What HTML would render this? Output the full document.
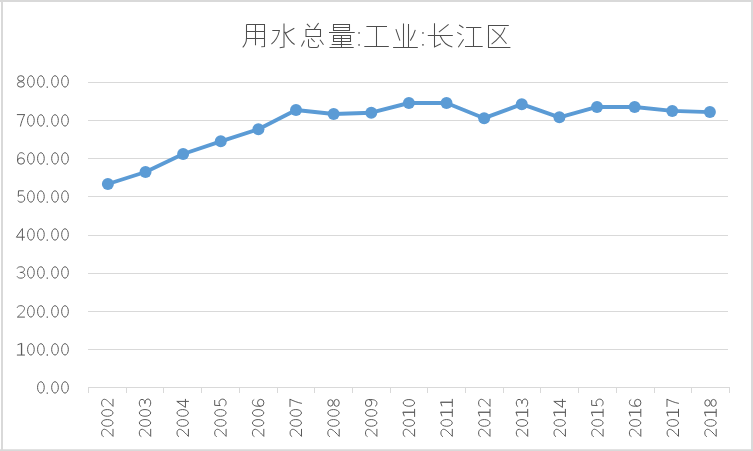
<!DOCTYPE html>
<html><head><meta charset="utf-8"><style>
html,body{margin:0;padding:0;background:#fff;}
body{width:753px;height:451px;overflow:hidden;position:relative;font-family:"Liberation Sans",sans-serif;}
svg{position:absolute;left:0;top:0;}
</style></head><body>
<svg width="753" height="451" viewBox="0 0 753 451">
<defs><g id="glyphdefs"><path id="g0" d="M1.65,0 A3.35,5.7 0 1 0 8.35,0 A3.35,5.7 0 1 0 1.65,0 Z" stroke-width="1.0"/><path id="g1" d="M1.0,5.7 H9.0 M5.65,-6.0 L1.65,-4.6" stroke-width="1.0"/><path id="g1s" d="M5.65,-6.1 V5.7" stroke-width="1.3"/><path id="g2" d="M1.3,-3.7 C1.6,-5.0 3.1,-5.7 5.0,-5.7 C7.2,-5.7 8.6,-4.6 8.6,-3.0 C8.6,-1.1 6.9,0.7 1.5,5.7 H9.0" stroke-width="1.0"/><path id="g3" d="M1.2,-3.9 C1.6,-5.1 3.2,-5.7 4.95,-5.7 C7.1,-5.7 8.5,-4.6 8.5,-3.0 C8.5,-1.2 7.0,-0.05 4.9,-0.05 H3.9 M4.9,-0.05 C7.4,-0.05 8.9,1.3 8.9,3.0 C8.9,4.6 7.3,5.7 5.0,5.7 C3.0,5.7 1.6,5.0 1.2,3.9" stroke-width="1.0"/><path id="g4" d="M6.5,6.2 V-5.9 L0.5,2.75 H9.0" stroke-width="1.0"/><path id="g5" d="M7.9,-5.7 H2.6 L2.35,-0.2 C3.0,-0.9 4.1,-1.4 5.2,-1.4 C7.3,-1.4 8.8,0.2 8.8,2.3 C8.8,4.4 7.2,5.7 5.1,5.7 C3.6,5.7 2.5,5.1 2.0,4.1" stroke-width="1.0"/><path id="g6" d="M8.4,-3.9 C7.9,-5.1 6.8,-5.7 5.3,-5.7 C2.9,-5.7 1.65,-3.3 1.65,0.3 V2.5 M1.65,2.6 A3.45,3.2 0 1 0 8.55,2.6 A3.45,3.2 0 1 0 1.65,2.6 Z" stroke-width="1.0"/><path id="g9" transform="rotate(180 5 0)" d="M8.4,-3.9 C7.9,-5.1 6.8,-5.7 5.3,-5.7 C2.9,-5.7 1.65,-3.3 1.65,0.3 V2.5 M1.65,2.6 A3.45,3.2 0 1 0 8.55,2.6 A3.45,3.2 0 1 0 1.65,2.6 Z" stroke-width="1.0"/><path id="g7" d="M1.0,-5.8 H9.0 M8.6,-5.8 C6.8,-1.8 5.3,1.8 4.5,6.1" stroke-width="1.0"/><path id="g8" d="M1.75,-3.0 A3.2,2.7 0 1 0 8.15,-3.0 A3.2,2.7 0 1 0 1.75,-3.0 Z M1.55,3.05 A3.45,2.7 0 1 0 8.45,3.05 A3.45,2.7 0 1 0 1.55,3.05 Z" stroke-width="1.0"/><path id="gp" d="M0.75,5.65 H2.05" stroke-width="1.3"/></g></defs>
<path d="M0,1 H753 M2,0 V451 M752,0 V451 M0,450.2 H753" stroke="#d9d9d9" stroke-width="2" fill="none"/>
<g stroke="#d9d9d9" stroke-width="1" shape-rendering="crispEdges"><line x1="88" y1="82.5" x2="728" y2="82.5"/><line x1="88" y1="120.5" x2="728" y2="120.5"/><line x1="88" y1="158.5" x2="728" y2="158.5"/><line x1="88" y1="196.5" x2="728" y2="196.5"/><line x1="88" y1="235.5" x2="728" y2="235.5"/><line x1="88" y1="273.5" x2="728" y2="273.5"/><line x1="88" y1="311.5" x2="728" y2="311.5"/><line x1="88" y1="349.5" x2="728" y2="349.5"/></g>
<g stroke="#d9d9d9" stroke-width="1" shape-rendering="crispEdges"><line x1="88" y1="387.5" x2="729" y2="387.5"/><line x1="88.5" y1="387" x2="88.5" y2="393"/><line x1="126.5" y1="387" x2="126.5" y2="393"/><line x1="163.5" y1="387" x2="163.5" y2="393"/><line x1="201.5" y1="387" x2="201.5" y2="393"/><line x1="239.5" y1="387" x2="239.5" y2="393"/><line x1="277.5" y1="387" x2="277.5" y2="393"/><line x1="314.5" y1="387" x2="314.5" y2="393"/><line x1="352.5" y1="387" x2="352.5" y2="393"/><line x1="390.5" y1="387" x2="390.5" y2="393"/><line x1="427.5" y1="387" x2="427.5" y2="393"/><line x1="465.5" y1="387" x2="465.5" y2="393"/><line x1="503.5" y1="387" x2="503.5" y2="393"/><line x1="540.5" y1="387" x2="540.5" y2="393"/><line x1="578.5" y1="387" x2="578.5" y2="393"/><line x1="616.5" y1="387" x2="616.5" y2="393"/><line x1="654.5" y1="387" x2="654.5" y2="393"/><line x1="691.5" y1="387" x2="691.5" y2="393"/><line x1="729.5" y1="387" x2="729.5" y2="393"/></g>
<g fill="none" stroke="#4d4d4d" stroke-width="1.05" stroke-linecap="butt" stroke-linejoin="miter">
<path d="M246.5,24.5 V38 Q246.5,43.5 242.7,47.3 M246.5,24.5 H264.5 V46.5 L261.3,46.8 M255.5,24.5 V45.2 M246.5,31.5 H264.5 M246.5,38.5 H264.5"/>
<path d="M284,23.4 V47 L279.7,47.7 M272.3,30.5 H279.4 Q277.5,39.5 271.4,44.1 M294.3,28.2 L285,33.5 M284.7,31.7 Q288,40 294.6,44.5"/>
<path d="M306.9,23.9 L310.1,27.1 M318.6,23 L314.2,29.1 M306,29.5 H320.5 V36.5 H306 Z M304.4,40.6 L301.4,46.4 M308.5,39.2 V45.5 Q308.6,47.5 311,47.5 H316.5 Q318.5,47.5 318.6,44.8 M311.1,38.3 L314.7,42 M320,39.7 L323.5,44.8"/>
<path d="M333.5,24.5 H349.5 V30.5 H333.5 Z M333.5,27.5 H349.5 M329,32.5 H354.7 M333.5,35.5 H350.5 V41.5 H333.5 Z M333.5,38.5 H350.5 M341.5,35.5 V47.5 M331.7,44.5 H351.5 M329.5,47.5 H353.7"/>
<path d="M366.4,26.5 H387 M376.5,26.5 V46.5 M364.3,46.5 H388.8"/>
<path d="M403.5,23.4 V47.5 M408.5,23.9 V47.5 M395.9,29.2 L399.9,40.6 M415.3,29.9 Q413.5,36 410.3,40.6 M393.1,47.5 H417.8"/>
<path d="M434.5,23.2 V47 L440.9,43.8 M448.6,24.4 L438.9,32.1 M427.8,35.5 H452.8 M440.2,35.8 Q444,45 452.3,47"/>
<path d="M459.1,25 L463.4,27.7 M457.2,32.4 L461.5,34.8 M458.3,47.3 L463.6,39.2 M466.1,27.5 H481.3 M473.5,27.5 V46.5 M465,46.5 H482.7"/>
<path d="M508.8,25.5 H488.5 V47.5 H510.4 M504.9,27.7 Q502,36.7 491.6,44.1 M492.3,29.2 Q500,35 506.5,43.8"/>
</g>
<g fill="#4d4d4d"><rect x="358.3" y="32.2" width="1.5" height="1.5"/><rect x="358.3" y="44.2" width="1.5" height="1.5"/><rect x="422.2" y="32.2" width="1.5" height="1.5"/><rect x="422.2" y="44.1" width="1.5" height="1.5"/></g>

<g fill="none" stroke="#595959" stroke-linecap="butt"><g transform="translate(0,81.4)"><use href="#g8" x="15.90"/><use href="#g0" x="25.90"/><use href="#g0" x="35.90"/><use href="#gp" x="45.90"/><use href="#g0" x="50.00"/><use href="#g0" x="60.00"/></g><g transform="translate(0,120.4)"><use href="#g7" x="15.90"/><use href="#g0" x="25.90"/><use href="#g0" x="35.90"/><use href="#gp" x="45.90"/><use href="#g0" x="50.00"/><use href="#g0" x="60.00"/></g><g transform="translate(0,158.4)"><use href="#g6" x="15.90"/><use href="#g0" x="25.90"/><use href="#g0" x="35.90"/><use href="#gp" x="45.90"/><use href="#g0" x="50.00"/><use href="#g0" x="60.00"/></g><g transform="translate(0,196.5)"><use href="#g5" x="15.90"/><use href="#g0" x="25.90"/><use href="#g0" x="35.90"/><use href="#gp" x="45.90"/><use href="#g0" x="50.00"/><use href="#g0" x="60.00"/></g><g transform="translate(0,234.45)"><use href="#g4" x="15.90"/><use href="#g0" x="25.90"/><use href="#g0" x="35.90"/><use href="#gp" x="45.90"/><use href="#g0" x="50.00"/><use href="#g0" x="60.00"/></g><g transform="translate(0,272.45)"><use href="#g3" x="15.90"/><use href="#g0" x="25.90"/><use href="#g0" x="35.90"/><use href="#gp" x="45.90"/><use href="#g0" x="50.00"/><use href="#g0" x="60.00"/></g><g transform="translate(0,311.4)"><use href="#g2" x="15.90"/><use href="#g0" x="25.90"/><use href="#g0" x="35.90"/><use href="#gp" x="45.90"/><use href="#g0" x="50.00"/><use href="#g0" x="60.00"/></g><g transform="translate(0,349.35)"><use href="#g1" x="15.90"/><use href="#g1s" x="15.90"/><use href="#g0" x="25.90"/><use href="#g0" x="35.90"/><use href="#gp" x="45.90"/><use href="#g0" x="50.00"/><use href="#g0" x="60.00"/></g><g transform="translate(0,387.4)"><use href="#g0" x="35.90"/><use href="#gp" x="45.90"/><use href="#g0" x="50.00"/><use href="#g0" x="60.00"/></g><g transform="translate(107.30,437.9) rotate(-90)"><use href="#g2" x="0.00"/><use href="#g0" x="10.00"/><use href="#g0" x="20.00"/><use href="#g2" x="30.00"/></g><g transform="translate(145.00,437.9) rotate(-90)"><use href="#g2" x="0.00"/><use href="#g0" x="10.00"/><use href="#g0" x="20.00"/><use href="#g3" x="30.00"/></g><g transform="translate(182.70,437.9) rotate(-90)"><use href="#g2" x="0.00"/><use href="#g0" x="10.00"/><use href="#g0" x="20.00"/><use href="#g4" x="30.00"/></g><g transform="translate(220.40,437.9) rotate(-90)"><use href="#g2" x="0.00"/><use href="#g0" x="10.00"/><use href="#g0" x="20.00"/><use href="#g5" x="30.00"/></g><g transform="translate(258.10,437.9) rotate(-90)"><use href="#g2" x="0.00"/><use href="#g0" x="10.00"/><use href="#g0" x="20.00"/><use href="#g6" x="30.00"/></g><g transform="translate(295.80,437.9) rotate(-90)"><use href="#g2" x="0.00"/><use href="#g0" x="10.00"/><use href="#g0" x="20.00"/><use href="#g7" x="30.00"/></g><g transform="translate(333.50,437.9) rotate(-90)"><use href="#g2" x="0.00"/><use href="#g0" x="10.00"/><use href="#g0" x="20.00"/><use href="#g8" x="30.00"/></g><g transform="translate(371.20,437.9) rotate(-90)"><use href="#g2" x="0.00"/><use href="#g0" x="10.00"/><use href="#g0" x="20.00"/><use href="#g9" x="30.00"/></g><g transform="translate(408.90,437.9) rotate(-90)"><use href="#g2" x="0.00"/><use href="#g0" x="10.00"/><use href="#g1" x="20.00"/><use href="#g1s" x="20.00"/><use href="#g0" x="30.00"/></g><g transform="translate(446.60,437.9) rotate(-90)"><use href="#g2" x="0.00"/><use href="#g0" x="10.00"/><use href="#g1" x="20.00"/><use href="#g1s" x="20.00"/><use href="#g1" x="30.00"/><use href="#g1s" x="30.00"/></g><g transform="translate(484.30,437.9) rotate(-90)"><use href="#g2" x="0.00"/><use href="#g0" x="10.00"/><use href="#g1" x="20.00"/><use href="#g1s" x="20.00"/><use href="#g2" x="30.00"/></g><g transform="translate(522.00,437.9) rotate(-90)"><use href="#g2" x="0.00"/><use href="#g0" x="10.00"/><use href="#g1" x="20.00"/><use href="#g1s" x="20.00"/><use href="#g3" x="30.00"/></g><g transform="translate(559.70,437.9) rotate(-90)"><use href="#g2" x="0.00"/><use href="#g0" x="10.00"/><use href="#g1" x="20.00"/><use href="#g1s" x="20.00"/><use href="#g4" x="30.00"/></g><g transform="translate(597.40,437.9) rotate(-90)"><use href="#g2" x="0.00"/><use href="#g0" x="10.00"/><use href="#g1" x="20.00"/><use href="#g1s" x="20.00"/><use href="#g5" x="30.00"/></g><g transform="translate(635.10,437.9) rotate(-90)"><use href="#g2" x="0.00"/><use href="#g0" x="10.00"/><use href="#g1" x="20.00"/><use href="#g1s" x="20.00"/><use href="#g6" x="30.00"/></g><g transform="translate(672.80,437.9) rotate(-90)"><use href="#g2" x="0.00"/><use href="#g0" x="10.00"/><use href="#g1" x="20.00"/><use href="#g1s" x="20.00"/><use href="#g7" x="30.00"/></g><g transform="translate(710.50,437.9) rotate(-90)"><use href="#g2" x="0.00"/><use href="#g0" x="10.00"/><use href="#g1" x="20.00"/><use href="#g1s" x="20.00"/><use href="#g8" x="30.00"/></g></g>
<polyline points="107.9,184 145.53,172 183.15,154 220.78,141.3 258.4,129.3 296.02,110 333.65,114 371.27,112.7 408.9,103 446.52,103 484.15,118.2 521.77,104.2 559.4,117.3 597.02,106.95 634.65,106.95 672.27,110.9 709.9,112.1" fill="none" stroke="#5b9bd5" stroke-width="3.9" stroke-linejoin="round" stroke-linecap="round"/>
<g fill="#5b9bd5"><circle cx="107.9" cy="184" r="6.0"/><circle cx="145.53" cy="172" r="6.0"/><circle cx="183.15" cy="154" r="6.0"/><circle cx="220.78" cy="141.3" r="6.0"/><circle cx="258.4" cy="129.3" r="6.0"/><circle cx="296.02" cy="110" r="6.0"/><circle cx="333.65" cy="114" r="6.0"/><circle cx="371.27" cy="112.7" r="6.0"/><circle cx="408.9" cy="103" r="6.0"/><circle cx="446.52" cy="103" r="6.0"/><circle cx="484.15" cy="118.2" r="6.0"/><circle cx="521.77" cy="104.2" r="6.0"/><circle cx="559.4" cy="117.3" r="6.0"/><circle cx="597.02" cy="106.95" r="6.0"/><circle cx="634.65" cy="106.95" r="6.0"/><circle cx="672.27" cy="110.9" r="6.0"/><circle cx="709.9" cy="112.1" r="6.0"/></g>
</svg>
</body></html>
